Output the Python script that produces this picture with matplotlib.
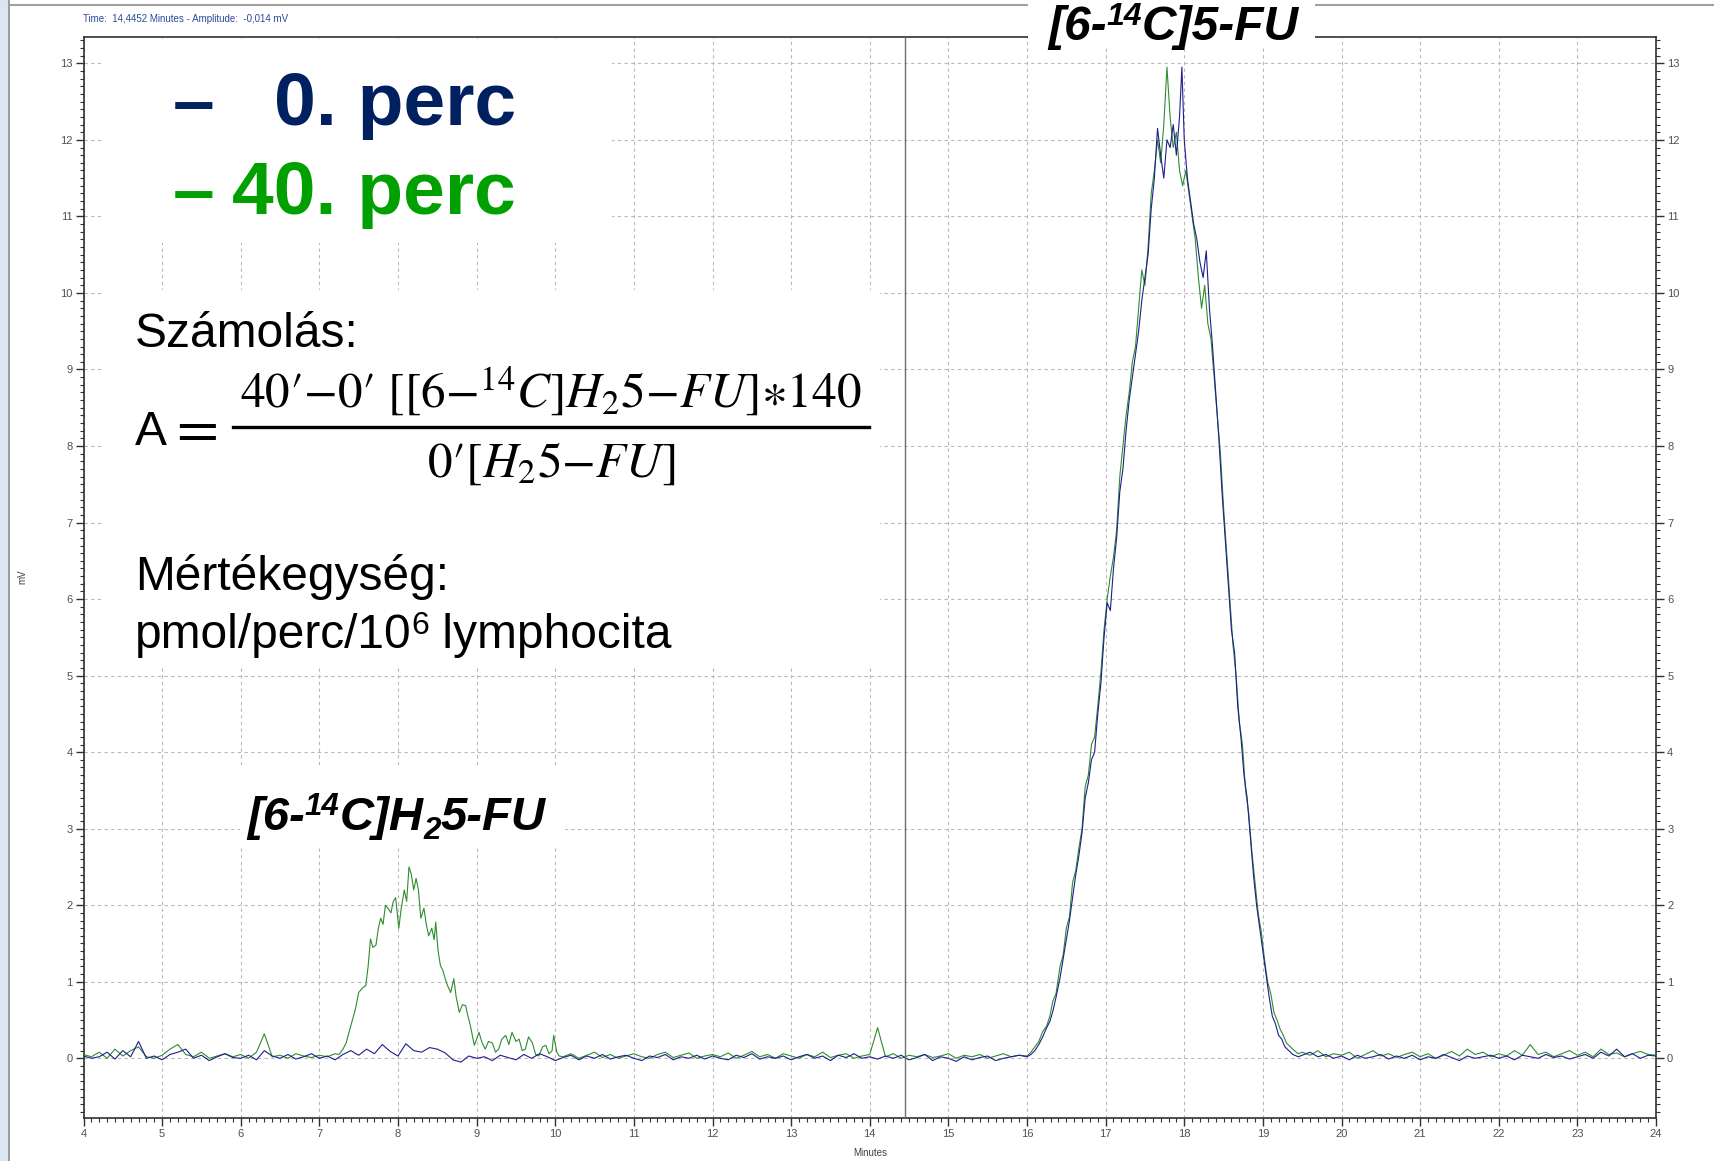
import matplotlib
matplotlib.use("Agg")
import matplotlib.pyplot as plt
from matplotlib.patches import Rectangle
from matplotlib.lines import Line2D
from matplotlib.ticker import MultipleLocator
import numpy as np

W, H = 1714, 1161

# --- readings (minutes, mV) ---
# 0. perc (blue) baseline 4.0 .. 15.9, step 0.1
blue_base1 = [
    0.03, 0.00, 0.02, 0.08, -0.01, 0.10, 0.02, 0.22, 0.00, 0.03,
    -0.02, 0.05, 0.08, 0.12, 0.00, 0.04, -0.03, 0.02, 0.06, 0.01,
    0.00, 0.04, -0.02, 0.10, 0.03, 0.00, 0.05, -0.01, 0.02, 0.06,
    0.00, 0.03, -0.02, 0.05, 0.10, 0.04, 0.12, 0.06, 0.18, 0.09,
    0.03, 0.19, 0.10, 0.08, 0.14, 0.12, 0.07, -0.02, -0.05, 0.03,
    0.00, 0.02, -0.03, 0.04, 0.01, -0.02, 0.05, 0.00, 0.06, 0.02,
    -0.03, 0.01, 0.04, -0.02, 0.03, 0.00, 0.05, -0.01, 0.02, 0.04,
    0.00, -0.03, 0.03, 0.01, 0.05, -0.02, 0.02, 0.00, 0.04, -0.01,
    0.03, 0.00, -0.02, 0.04, 0.01, 0.06, -0.01, 0.02, 0.00, 0.03,
    -0.02, 0.02, 0.05, 0.00, 0.03, -0.03, 0.04, 0.01, 0.06, 0.00,
    0.02, -0.01, 0.03, 0.00, 0.04, -0.02, 0.01, 0.05, -0.03, 0.02,
    0.00, -0.04, 0.02, -0.02, 0.01, 0.03, -0.03, 0.00, 0.02, 0.04,
]
blue_peak_t = [
    16.00, 16.05, 16.10, 16.15, 16.20, 16.25, 16.29, 16.33, 16.37, 16.42,
    16.46, 16.50, 16.54, 16.58, 16.62, 16.66, 16.70, 16.74, 16.78, 16.82,
    16.86, 16.90, 16.94, 16.98, 17.02, 17.06, 17.10, 17.14, 17.18, 17.22,
    17.26, 17.30, 17.34, 17.38, 17.42, 17.46, 17.50, 17.54, 17.58, 17.62,
    17.66, 17.70, 17.74, 17.78, 17.82, 17.86, 17.90, 17.94, 17.97, 18.00,
    18.04, 18.08, 18.12, 18.16, 18.20, 18.24, 18.28, 18.32, 18.36, 18.40,
    18.44, 18.48, 18.52, 18.56, 18.60, 18.64, 18.68, 18.72, 18.76, 18.80,
    18.84, 18.88, 18.92, 18.96, 19.00, 19.04, 19.08, 19.12, 19.16, 19.20,
    19.24, 19.28, 19.33, 19.38, 19.45,
]
blue_peak_v = [
    0.02, 0.05, 0.10, 0.18, 0.28, 0.40, 0.48, 0.62, 0.80, 1.05,
    1.30, 1.55, 1.80, 2.10, 2.40, 2.65, 2.95, 3.40, 3.60, 3.90,
    4.00, 4.50, 4.90, 5.50, 5.95, 5.85, 6.40, 6.80, 7.40, 7.70,
    8.20, 8.60, 8.90, 9.20, 9.50, 9.90, 10.20, 10.50, 11.10, 11.50,
    12.15, 11.80, 11.50, 12.00, 11.90, 12.20, 11.80, 12.30, 12.95, 12.00,
    11.50, 11.20, 10.90, 10.70, 10.40, 10.20, 10.55, 9.80, 9.30, 8.70,
    8.10, 7.40, 6.80, 6.20, 5.60, 5.30, 4.60, 4.20, 3.70, 3.40,
    2.90, 2.40, 2.00, 1.70, 1.40, 1.10, 0.80, 0.55, 0.45, 0.30,
    0.25, 0.15, 0.10, 0.05, 0.02,
]
# 19.5 .. 24.0, step 0.1
blue_base2 = [
    0.04, 0.08, 0.02, 0.05, 0.00,
    0.03, -0.02, 0.04, 0.00, 0.02, 0.05, -0.01, 0.03, 0.00, 0.04,
    -0.02, 0.02, 0.00, 0.05, 0.01, -0.03, 0.03, 0.00, 0.02, 0.04,
    0.00, 0.03, -0.02, 0.04, 0.02, 0.00, 0.05, 0.01, 0.03, -0.01,
    0.02, 0.05, 0.00, 0.08, 0.03, 0.12, 0.02, 0.06, 0.00, 0.04,
    0.03,
]

# 40. perc (green) baseline 4.0 .. 7.2, step 0.1
green_base1 = [
    0.05, 0.02, 0.08, 0.00, 0.12, 0.03, 0.10, 0.15, 0.02, 0.00,
    0.04, 0.12, 0.18, 0.05, 0.02, 0.08, 0.00, 0.03, 0.06, 0.02,
    0.05, 0.00, 0.08, 0.32, 0.02, 0.04, 0.00, 0.06, 0.03, 0.01,
    0.04, 0.02, 0.06,
]
green_peak1_t = [
    7.25, 7.30, 7.34, 7.38, 7.42, 7.46, 7.50, 7.55, 7.59, 7.62,
    7.65, 7.68, 7.72, 7.75, 7.78, 7.81, 7.84, 7.88, 7.91, 7.94,
    7.97, 8.01, 8.04, 8.08, 8.11, 8.14, 8.17, 8.20, 8.23, 8.26,
    8.29, 8.33, 8.36, 8.39, 8.43, 8.46, 8.48, 8.51, 8.54, 8.57,
    8.60, 8.63, 8.67, 8.71, 8.74, 8.78, 8.82, 8.86, 8.89, 8.92,
    8.97, 9.00, 9.03, 9.07, 9.11, 9.15, 9.20, 9.24, 9.28, 9.32,
    9.37, 9.41, 9.45, 9.50, 9.54, 9.58, 9.62, 9.66, 9.71, 9.75,
    9.79, 9.84, 9.88, 9.92, 9.96, 9.98, 10.02, 10.05,
]
green_peak1_v = [
    0.05, 0.12, 0.20, 0.35, 0.50, 0.65, 0.86, 0.92, 0.95, 1.20,
    1.56, 1.45, 1.48, 1.70, 1.83, 1.75, 2.00, 1.95, 1.90, 2.05,
    2.10, 1.70, 1.95, 2.20, 2.05, 2.50, 2.40, 2.20, 2.35, 2.20,
    1.83, 1.96, 1.75, 1.60, 1.70, 1.55, 1.78, 1.40, 1.21, 1.15,
    1.04, 0.95, 0.86, 1.04, 0.80, 0.60, 0.70, 0.69, 0.55, 0.43,
    0.17, 0.25, 0.34, 0.20, 0.12, 0.22, 0.20, 0.08, 0.12, 0.25,
    0.30, 0.18, 0.34, 0.22, 0.25, 0.10, 0.12, 0.28, 0.20, 0.05,
    0.03, 0.15, 0.17, 0.06, 0.10, 0.30, 0.08, 0.03,
]
# 10.1 .. 15.9, step 0.1
green_base2 = [
    0.02, 0.06, 0.00, 0.04, 0.08, 0.01, 0.05, 0.00, 0.03,
    0.06, 0.02, 0.00, 0.05, 0.08, 0.01, 0.04, 0.07, 0.00, 0.03,
    0.05, 0.02, 0.07, 0.00, 0.04, 0.09, 0.02, 0.05, 0.00, 0.06,
    0.03, 0.00, 0.05, 0.02, 0.08, 0.01, 0.04, 0.06, 0.00, 0.03,
    0.05, 0.40, 0.02, 0.06, 0.00, 0.04, 0.02, 0.05, 0.01, 0.03,
    0.06, 0.00, 0.04, 0.02, 0.05, 0.00, 0.03, 0.06, 0.02, 0.04,
]
green_peak2_t = [
    16.00, 16.05, 16.10, 16.15, 16.20, 16.25, 16.29, 16.33, 16.37, 16.42,
    16.46, 16.50, 16.54, 16.58, 16.62, 16.66, 16.70, 16.74, 16.78, 16.82,
    16.86, 16.90, 16.94, 16.98, 17.02, 17.06, 17.10, 17.14, 17.18, 17.22,
    17.26, 17.30, 17.34, 17.38, 17.42, 17.46, 17.50, 17.54, 17.58, 17.62,
    17.66, 17.70, 17.74, 17.78, 17.82, 17.86, 17.90, 17.94, 17.98, 18.02,
    18.06, 18.10, 18.14, 18.18, 18.22, 18.26, 18.30, 18.34, 18.38, 18.42,
    18.46, 18.50, 18.54, 18.58, 18.62, 18.66, 18.70, 18.74, 18.78, 18.82,
    18.86, 18.90, 18.94, 18.98, 19.02, 19.06, 19.10, 19.14, 19.18, 19.22,
    19.26, 19.30, 19.35, 19.40, 19.45,
]
green_peak2_v = [
    0.03, 0.08, 0.15, 0.22, 0.35, 0.42, 0.55, 0.75, 0.85, 1.20,
    1.35, 1.70, 1.85, 2.30, 2.45, 2.75, 3.00, 3.55, 3.70, 4.10,
    4.20, 4.60, 5.05, 5.60, 6.00, 6.30, 6.55, 6.90, 7.60, 8.00,
    8.40, 8.70, 9.10, 9.30, 9.80, 10.30, 10.10, 10.60, 11.30, 11.60,
    12.00, 11.70, 12.20, 12.95, 12.30, 11.90, 12.10, 11.60, 11.40, 11.60,
    11.30, 11.00, 10.70, 10.20, 9.80, 10.10, 9.60, 9.40, 8.90, 8.40,
    7.90, 7.20, 6.60, 6.00, 5.40, 5.00, 4.40, 4.10, 3.50, 3.20,
    2.70, 2.30, 1.90, 1.65, 1.30, 1.00, 0.85, 0.60, 0.50, 0.38,
    0.30, 0.20, 0.15, 0.10, 0.06,
]
# 19.5 .. 24.0, step 0.1
green_base3 = [
    0.08, 0.04, 0.10, 0.02, 0.06,
    0.04, 0.08, 0.00, 0.05, 0.10, 0.03, 0.06, 0.01, 0.05, 0.08,
    0.02, 0.06, 0.00, 0.04, 0.09, 0.03, 0.12, 0.05, 0.08, 0.02,
    0.06, 0.03, 0.10, 0.04, 0.18, 0.05, 0.08, 0.02, 0.06, 0.10,
    0.04, 0.08, 0.02, 0.12, 0.05, 0.07, 0.02, 0.06, 0.09, 0.05,
    0.04,
]

CURSOR_T = 14.4452
BLUE = "#1e1e8c"
GREEN = "#2f8c2f"


def base_segment(start, values, step=0.1):
    return start + step * np.arange(len(values)), np.asarray(values)


def join(*segments):
    t = np.concatenate([np.asarray(s[0], dtype=float) for s in segments])
    v = np.concatenate([np.asarray(s[1], dtype=float) for s in segments])
    order = np.argsort(t, kind="stable")
    return t[order], v[order]


def fx(x):
    return x / W


def fy(y):
    return 1 - y / H


plt.rcParams["font.family"] = ["Liberation Sans", "DejaVu Sans"]
plt.rcParams["mathtext.fontset"] = "custom"
plt.rcParams["mathtext.rm"] = "Liberation Sans"
plt.rcParams["mathtext.it"] = "Liberation Sans:italic"
plt.rcParams["mathtext.bf"] = "Liberation Sans:bold"

blue_t, blue_v = join(base_segment(4.0, blue_base1),
                      (blue_peak_t, blue_peak_v),
                      base_segment(19.5, blue_base2))
green_t, green_v = join(base_segment(4.0, green_base1),
                        (green_peak1_t, green_peak1_v),
                        base_segment(10.1, green_base2),
                        (green_peak2_t, green_peak2_v),
                        base_segment(19.5, green_base3))

fig = plt.figure(figsize=(W / 100, H / 100), dpi=100)
renderer = fig.canvas.get_renderer()
ax = fig.add_axes([fx(83.5), fy(1118), fx(1656) - fx(83.5), fy(37.3) - fy(1118)])

ax.plot(green_t, green_v, color=GREEN, lw=0.8, zorder=3)
ax.plot(blue_t, blue_v, color=BLUE, lw=0.8, zorder=3)
ax.axvline(CURSOR_T, color="#707070", lw=1.0, zorder=4)

ax.set_xlim(4, 24)
ax.set_ylim(-0.78, 13.34)
ax.xaxis.set_major_locator(MultipleLocator(1))
ax.xaxis.set_minor_locator(MultipleLocator(0.1))
ax.yaxis.set_major_locator(MultipleLocator(1))
ax.yaxis.set_minor_locator(MultipleLocator(0.1))
ax.grid(which="major", linestyle=(0, (3, 3)), color="#b8b8b8", lw=0.8, zorder=0)
ax.set_axisbelow(True)
ax.tick_params(which="both", direction="out", colors="#303030",
               labelcolor="#505050", labelsize=8, top=False,
               left=True, right=True, labelleft=True, labelright=True)
ax.tick_params(which="major", length=6, width=1.0, pad=2)
ax.tick_params(which="minor", length=3, width=0.8)
for side in ("left", "bottom", "right", "top"):
    ax.spines[side].set_color("#303030")
    ax.spines[side].set_linewidth(1.2)

fig.text(fx(22), fy(577), "mV", rotation=90, fontsize=7, color="#404040",
         ha="center", va="center")
fig.text(fx(870), fy(1153), "Minutes", fontsize=7, color="#404040",
         ha="center", va="center")
fig.text(fx(83), fy(18.5), "Time:  14,4452 Minutes - Amplitude:  -0,014 mV",
         fontsize=7, color="#2a4a9a", ha="left", va="center")

# window frame bits
fig.add_artist(Rectangle((0, 0), fx(8), 1, transform=fig.transFigure,
                         facecolor="#dce6f2", edgecolor="none", zorder=1))
fig.add_artist(Line2D([fx(9), fx(9)], [0, 1], transform=fig.transFigure,
                      color="#8a8a8a", lw=1.2, zorder=1))
fig.add_artist(Line2D([fx(9), 1], [fy(5), fy(5)], transform=fig.transFigure,
                      color="#a0a0a0", lw=1.5, zorder=1))

# white boxes behind overlay texts
for x0, y0, x1, y1 in ((102, 39, 612, 243), (104, 290, 880, 665),
                       (240, 765, 565, 848), (1028, 0, 1315, 47)):
    fig.add_artist(Rectangle((fx(x0), fy(y1)), fx(x1) - fx(x0), fy(y0) - fy(y1),
                             transform=fig.transFigure, facecolor="white",
                             edgecolor="none", zorder=2))


def chain(x, y, pieces, **kw):
    """Write text pieces left to right; each piece is (text, size, raise_px)."""
    for s, size, dy in pieces:
        t = fig.text(fx(x), fy(y - dy), s, fontsize=size, va="baseline",
                     ha="left", zorder=5, **kw)
        x += t.get_window_extent(renderer).width


# legend
fig.text(fx(173), fy(125), "\u2013", fontsize=54, fontweight="bold",
         color="#002060", va="baseline", ha="left", zorder=5)
fig.text(fx(516), fy(125), "0. perc", fontsize=54, fontweight="bold",
         color="#002060", va="baseline", ha="right", zorder=5)
fig.text(fx(173), fy(214), "\u2013", fontsize=54, fontweight="bold",
         color="#00a000", va="baseline", ha="left", zorder=5)
fig.text(fx(516), fy(214), "40. perc", fontsize=54, fontweight="bold",
         color="#00a000", va="baseline", ha="right", zorder=5)

# calculation
fig.text(fx(135), fy(347), "Számolás:", fontsize=34.5, va="baseline", zorder=5)
fig.text(fx(135), fy(445), "A", fontsize=34.5, va="baseline", zorder=5)
fig.text(fx(168), fy(445), r"$=$", fontsize=44, math_fontfamily="stix",
         va="baseline", zorder=5)
fig.text(fx(551), fy(408), "$40\u2032{-}0\u2032\\ [[6{-}{}^{14}C]H_{2}5{-}FU]{\\ast}140$",
         fontsize=35.5, math_fontfamily="stix", ha="center", va="baseline", zorder=5)
fig.add_artist(Line2D([fx(233), fx(869)], [fy(427), fy(427)],
                      transform=fig.transFigure, color="black", lw=2.4, zorder=5))
fig.text(fx(551), fy(477), "$0\u2032[H_{2}5{-}FU]$", fontsize=35.5,
         math_fontfamily="stix", ha="center", va="baseline", zorder=5)
fig.text(fx(135), fy(590), "Mértékegység:", fontsize=34.5, va="baseline", zorder=5)
chain(135, 648, [("pmol/perc/10", 34.5, 0), ("6", 23, 14), (" lymphocita", 34.5, 0)])

# peak labels
bold_it = dict(fontweight="bold", style="italic", color="black")
chain(247, 830, [("[6-", 34, 0), ("14", 22.5, 15), ("C]H", 34, 0), ("2", 22.5, -9),
                 ("5-FU", 34, 0)], **bold_it)
chain(1048, 40, [("[6-", 34.5, 0), ("14", 23, 15), ("C]5-FU", 34.5, 0)], **bold_it)

fig.savefig("out.png", dpi=100)
